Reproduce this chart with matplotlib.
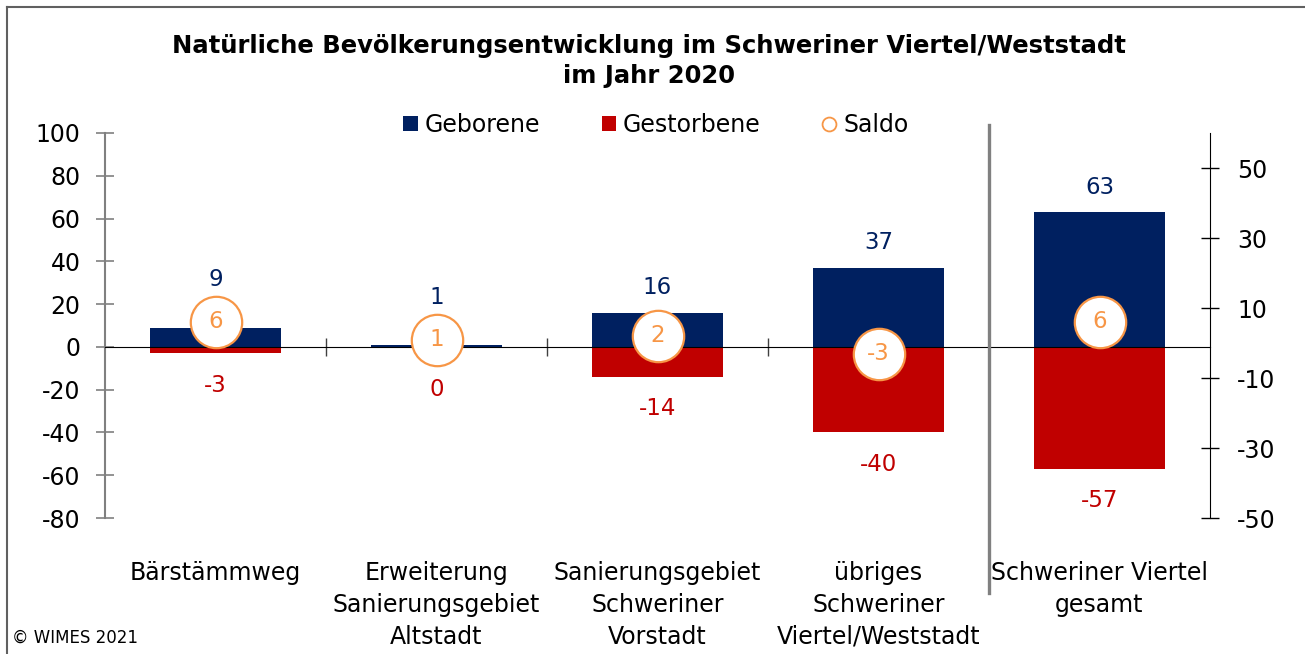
import numpy as np
import matplotlib
matplotlib.use("Agg")
from matplotlib import pyplot as plt
from matplotlib.lines import Line2D
from matplotlib.patches import Patch

# data
categories = ["Bärstämmweg", "Erweiterung\nSanierungsgebiet\nAltstadt",
              "Sanierungsgebiet\nSchweriner\nVorstadt",
              "übriges\nSchweriner\nViertel/Weststadt",
              "Schweriner Viertel\ngesamt"]
geborene = [9, 1, 16, 37, 63]
gestorbene = [-3, 0, -14, -40, -57]
saldo = [6, 1, 2, -3, 6]

navy = "#002060"
red = "#C00000"
orange = "#F79646"
grey = "#808080"

plt.rcParams["font.family"] = "DejaVu Sans"
plt.rcParams["axes.unicode_minus"] = False

fig = plt.figure(figsize=(13.05, 6.54), dpi=100)
W, H = 1305, 654
ax = fig.add_axes([105 / W, 1 - 518 / H, (1210 - 105) / W, (518 - 133) / H])
ax2 = ax.twinx()

x = np.arange(len(categories))
ax.bar(x, geborene, width=0.59, color=navy, zorder=2)
ax.bar(x, gestorbene, width=0.59, color=red, zorder=2)

ax.set_xlim(-0.5, len(categories) - 0.5)
ax.set_ylim(-80, 100)
ax.set_yticks(np.arange(-80, 101, 20))
ax.tick_params(axis="y", direction="inout", length=13, width=1.2, color=grey,
               labelsize=17, pad=11)

# zero line as x axis with ticks at category borders
ax.spines["bottom"].set_position(("data", 0))
ax.spines["bottom"].set_color("black")
ax.spines["top"].set_visible(False)
ax.spines["right"].set_visible(False)
ax.spines["left"].set_color(grey)
ax.spines["left"].set_linewidth(1.5)
ax.set_xticks(np.arange(0.5, len(categories) - 1, 1.0))
ax.tick_params(axis="x", direction="inout", length=13, width=1, color="#404040",
               labelbottom=False)

# secondary axis for saldo
ax2.set_ylim(-50, 60)
ax2.set_yticks([-50, -30, -10, 10, 30, 50])
ax2.tick_params(axis="y", direction="inout", length=13, width=1, color="black",
                labelsize=17, pad=13)
for s in ["top", "left", "bottom"]:
    ax2.spines[s].set_visible(False)
ax2.spines["right"].set_color("black")

ax2.plot(x, saldo, linestyle="none", marker="o", markersize=37,
         markerfacecolor="white", markeredgecolor=orange, markeredgewidth=1.6,
         zorder=3)
for xi, s in zip(x, saldo):
    ax2.text(xi, s, str(s), ha="center", va="center", color=orange, fontsize=16.5,
             zorder=4)

# separator before total
ax.axvline(3.5, ymin=(518 - 593) / 385, ymax=(518 - 125) / 385, color=grey,
           linewidth=2.4, clip_on=False, zorder=5)

# value labels, kept clear of bars and circles
r_px = 26
inv = ax.transData.inverted()
for xi, g, d, s in zip(x, geborene, gestorbene, saldo):
    yb = ax.transData.transform((xi, g))[1]
    yc = ax2.transData.transform((xi, s))[1] + r_px
    ytop = max(yb + 25, yc + 16)
    ax.text(xi, inv.transform((0, ytop))[1], str(g),
            ha="center", va="center", color=navy, fontsize=16.5)
    yb = ax.transData.transform((xi, d))[1]
    yc = ax2.transData.transform((xi, s))[1] - r_px
    ybot = min(yb - 32, yc - 24)
    ax.text(xi, inv.transform((0, ybot))[1], str(d),
            ha="center", va="center", color=red, fontsize=16.5)

# category labels
for xi, c in zip(x, categories):
    ax.text(xi, (518 - 561) / 385, c, transform=ax.get_xaxis_transform(),
            ha="center", va="top", fontsize=17, linespacing=1.42)

fig.text(649 / W, 1 - 61 / H,
         "Natürliche Bevölkerungsentwicklung im Schweriner Viertel/Weststadt\nim Jahr 2020",
         ha="center", va="center", fontsize=17.5, fontweight="bold", linespacing=1.35)

handles = [Patch(facecolor=navy), Patch(facecolor=red),
           Line2D([], [], linestyle="none", marker="o", markersize=10,
                  markerfacecolor="white", markeredgecolor=orange, markeredgewidth=1.3)]
fig.legend(handles, ["Geborene", "Gestorbene", "Saldo"], loc="center",
           bbox_to_anchor=(656 / W, 1 - 125 / H), ncol=3, frameon=False,
           fontsize=17, handlelength=0.6, handleheight=0.6, handletextpad=0.3,
           columnspacing=2.6)

fig.text(12 / W, 1 - 638 / H, "© WIMES 2021", ha="left", va="center", fontsize=12)

# chart frame (top and left edges visible)
fig.add_artist(Line2D([7 / W, 1], [1 - 7 / H, 1 - 7 / H], color="#606060", linewidth=1.5))
fig.add_artist(Line2D([7 / W, 7 / W], [0, 1 - 7 / H], color="#606060", linewidth=1.5))

fig.savefig("out.png", dpi=100)
